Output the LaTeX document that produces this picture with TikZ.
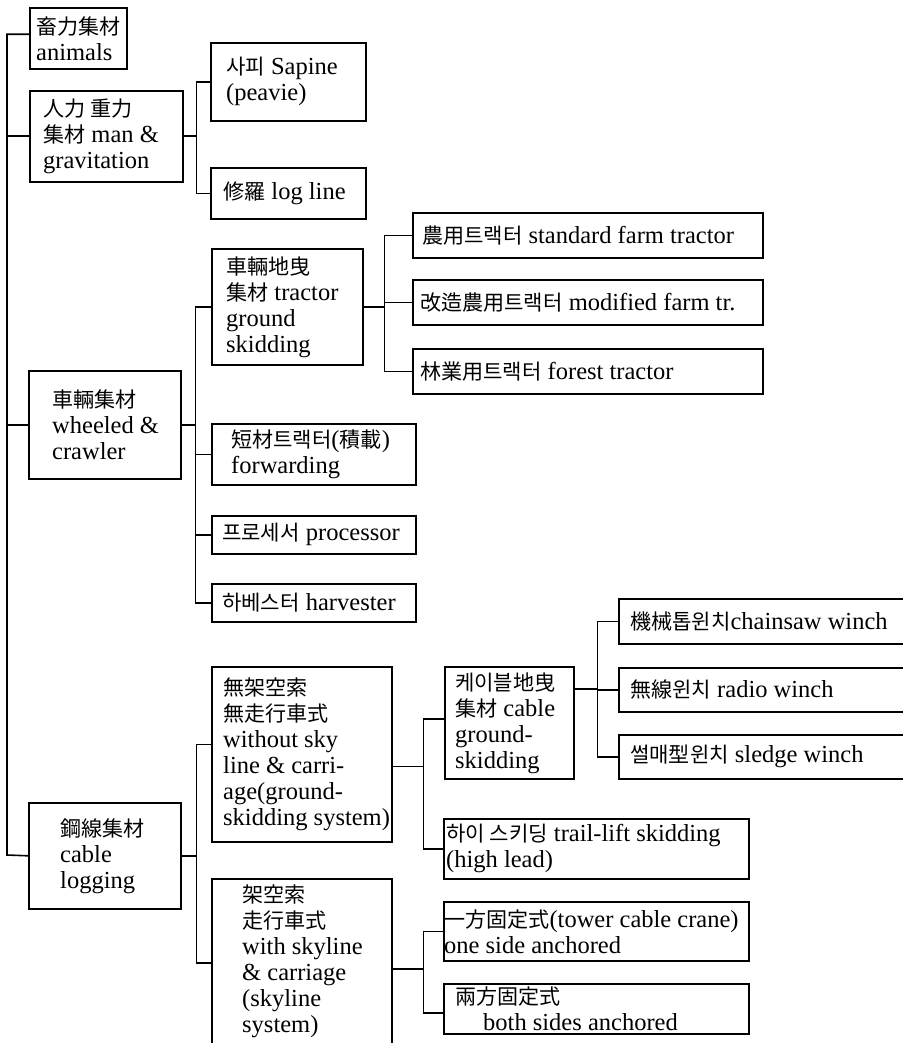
\documentclass[tikz,border=0pt]{standalone}
\usepackage{fontspec}
\setmainfont{Liberation Serif}
\newfontfamily\cjk[Scale=0.86]{Noto Sans CJK KR}
\newcommand{\K}[1]{{\cjk #1}}
\begin{document}
\begin{tikzpicture}[x=1pt,y=-1pt,
  box/.style={draw, line width=1.6pt, inner sep=0pt, anchor=north west},
  txt/.style={anchor=west, align=left, inner sep=0pt, font=\fontsize{24.5}{26}\selectfont},
  conn/.style={line width=1.6pt}]
\useasboundingbox (0,0) rectangle (902,1043);
% boxes
\node[box, minimum width=97pt,  minimum height=61pt]  (A) at (29,7) {};
\node[box, minimum width=153pt, minimum height=91pt]  (B) at (29,90) {};
\node[box, minimum width=155pt, minimum height=78pt]  (C) at (210,42) {};
\node[box, minimum width=155pt, minimum height=51pt]  (D) at (210,167) {};
\node[box, minimum width=152pt, minimum height=108pt] (E) at (28,370) {};
\node[box, minimum width=151pt, minimum height=116pt] (F) at (211,248) {};
\node[box, minimum width=350pt, minimum height=45pt]  (G) at (412,212) {};
\node[box, minimum width=350pt, minimum height=45pt]  (H) at (412,279) {};
\node[box, minimum width=350pt, minimum height=45pt]  (I) at (412,348) {};
\node[box, minimum width=204pt, minimum height=61pt]  (J) at (211,423) {};
\node[box, minimum width=204pt, minimum height=38pt]  (K) at (211,515) {};
\node[box, minimum width=204pt, minimum height=38pt]  (L) at (211,583) {};
\node[box, minimum width=152pt, minimum height=106pt] (M) at (28,802) {};
\node[box, minimum width=180pt, minimum height=175pt] (N) at (211,666) {};
\node[box, minimum width=180pt, minimum height=168pt] (O) at (211,878) {};
\node[box, minimum width=129pt, minimum height=112pt] (P) at (444,666) {};
\node[box, minimum width=300pt, minimum height=45pt]  (Q) at (618,598) {};
\node[box, minimum width=300pt, minimum height=44pt]  (R) at (618,667) {};
\node[box, minimum width=300pt, minimum height=44pt]  (S) at (618,734) {};
\node[box, minimum width=305pt, minimum height=60pt]  (T) at (443,818) {};
\node[box, minimum width=305pt, minimum height=59pt]  (U) at (443,901) {};
\node[box, minimum width=305pt, minimum height=50pt]  (V) at (443,983) {};
% texts
\node[txt] (At) at ([xshift=7pt]A.west)  {\K{畜力集材}\\animals};
\node[txt] (Bt) at ([xshift=14pt]B.west) {\K{人力 重力}\\\K{集材} man \&\\gravitation};
\node[txt] (Ct) at ([xshift=16pt]C.west) {\K{사피} Sapine\\(peavie)};
\node[txt] (Dt) at ([xshift=13pt]D.west) {\K{修羅} log line};
\node[txt] (Et) at ([xshift=24pt]E.west) {\K{車輛集材}\\wheeled \&\\crawler};
\node[txt] (Ft) at ([xshift=15pt]F.west) {\K{車輛地曳}\\\K{集材} tractor\\ground\\skidding};
\node[txt] (Gt) at ([xshift=10pt]G.west) {\K{農用트랙터} standard farm tractor};
\node[txt] (Ht) at ([xshift=8pt]H.west)  {\K{改造農用트랙터} modified farm tr.};
\node[txt] (It) at ([xshift=8pt]I.west)  {\K{林業用트랙터} forest tractor};
\node[txt] (Jt) at ([xshift=20pt]J.west) {\K{短材트랙터}(\K{積載})\\forwarding};
\node[txt] (Kt) at ([xshift=11pt]K.west) {\K{프로세서} processor};
\node[txt] (Lt) at ([xshift=11pt]L.west) {\K{하베스터} harvester};
\node[txt] (Mt) at ([xshift=32pt]M.west) {\K{鋼線集材}\\cable\\logging};
\node[txt] (Nt) at ([xshift=12pt]N.west) {\K{無架空索}\\\K{無走行車式}\\without sky\\line \& carri-\\age(ground-\\skidding system)};
\node[txt] (Ot) at ([xshift=31pt,yshift=2pt]O.west) {\K{架空索}\\\K{走行車式}\\with skyline\\\& carriage\\(skyline\\system)};
\node[txt] (Pt) at ([xshift=11pt]P.west) {\K{케이블地曳}\\\K{集材} cable\\ground-\\skidding};
\node[txt] (Qt) at ([xshift=12pt]Q.west) {\K{機械톱윈치}chainsaw winch};
\node[txt] (Rt) at ([xshift=12pt]R.west) {\K{無線윈치} radio winch};
\node[txt] (St) at ([xshift=12pt]S.west) {\K{썰매型윈치} sledge winch};
\node[txt] (Tt) at ([xshift=3pt]T.west)  {\K{하이 스키딩} trail-lift skidding\\(high lead)};
\node[txt] (Ut) at ([xshift=1pt]U.west)  {\K{一方固定式}(tower cable crane)\\one side anchored};
\node[txt] (Vt) at ([xshift=12pt]V.west) {\K{兩方固定式}\\\hspace*{28pt}both sides anchored};
% root connectors
\coordinate (Rt0) at (7,855);
\draw[conn] ([yshift=4pt]A.west) -| (Rt0) -- (M.west);
\draw[conn] (B.west) -- (B.west -| Rt0);
\draw[conn] (E.west) -- (E.west -| Rt0);
% B children
\coordinate (b1) at ([xshift=13pt]B.east);
\draw[conn] (B.east) -- (b1);
\draw[conn] (b1) |- (C.west);
\draw[conn] (b1) |- (D.west);
% E children
\coordinate (e1) at ([xshift=14pt]E.east);
\draw[conn] (E.east) -- (e1);
\draw[conn] (e1) |- (F.west);
\draw[conn] (e1) |- (J.west);
\draw[conn] (e1) |- (K.west);
\draw[conn] (e1) |- (L.west);
% F children
\coordinate (f1) at ([xshift=21pt]F.east);
\draw[conn] (F.east) -- (f1);
\draw[conn] (f1) |- (G.west);
\draw[conn] (f1) |- (H.west);
\draw[conn] (f1) |- (I.west);
% M children
\coordinate (m1) at ([xshift=15pt]M.east);
\draw[conn] (M.east) -- (m1);
\draw[conn] (m1) |- ([yshift=10pt]N.west);
\draw[conn] (m1) |- (O.west);
% N children
\coordinate (n1) at ([xshift=31pt,yshift=-12pt]N.east);
\draw[conn] ([yshift=-12pt]N.east) -- (n1);
\draw[conn] (n1) |- ([yshift=4pt]P.west);
\draw[conn] (n1) |- (T.west);
% O children
\coordinate (o1) at ([xshift=31pt,yshift=-6pt]O.east);
\draw[conn] ([yshift=-6pt]O.east) -- (o1);
\draw[conn] (o1) |- (U.west);
\draw[conn] (o1) |- ([yshift=-4pt]V.west);
% P children
\coordinate (p1) at ([xshift=23pt,yshift=34pt]P.east);
\draw[conn] ([yshift=34pt]P.east) -- (p1);
\draw[conn] (p1) |- (Q.west);
\draw[conn] (p1) |- (R.west);
\draw[conn] (p1) |- (S.west);
\end{tikzpicture}
\end{document}
